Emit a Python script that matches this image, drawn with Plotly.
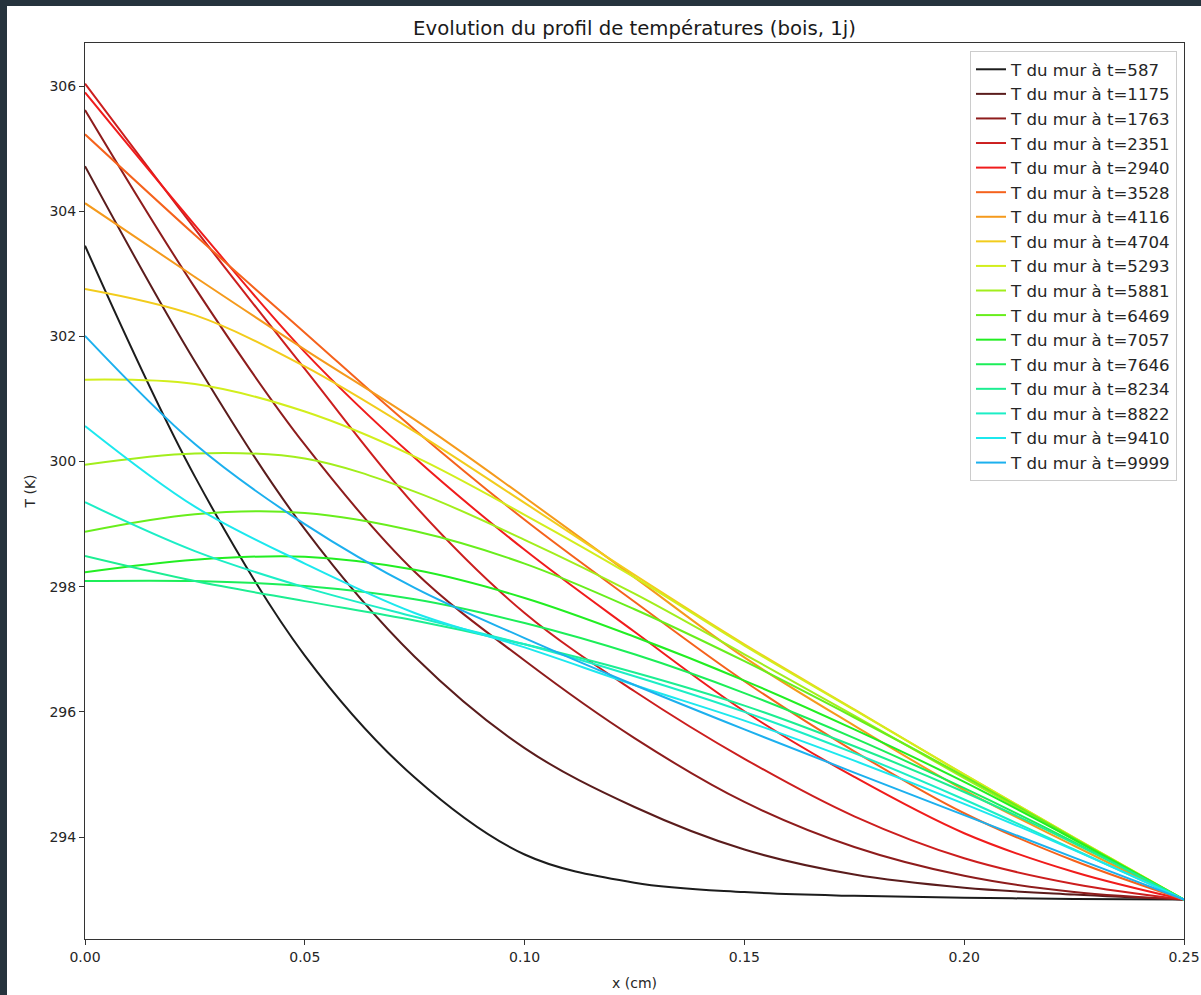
import plotly.graph_objects as go

x_cm = [0.0, 0.025, 0.05, 0.075, 0.1, 0.125, 0.15, 0.175, 0.2, 0.225, 0.25]

times = [587, 1175, 1763, 2351, 2940, 3528, 4116, 4704, 5293, 5881,
         6469, 7057, 7646, 8234, 8822, 9410, 9999]

T_587 = [303.45, 299.76, 296.90, 294.95, 293.72, 293.27, 293.12, 293.06, 293.03, 293.01, 293.0]
T_1175 = [304.72, 301.60, 298.92, 296.88, 295.42, 294.48, 293.80, 293.40, 293.19, 293.08, 293.0]
T_1763 = [305.62, 302.78, 300.27, 298.24, 296.82, 295.58, 294.56, 293.84, 293.38, 293.12, 293.0]
T_2351 = [306.04, 303.72, 301.48, 299.30, 297.58, 296.33, 295.25, 294.33, 293.66, 293.25, 293.0]
T_2940 = [305.90, 303.78, 301.75, 300.06, 298.59, 297.28, 296.01, 294.96, 294.06, 293.44, 293.0]
T_3528 = [305.23, 303.62, 302.06, 300.51, 299.07, 297.76, 296.49, 295.37, 294.38, 293.62, 293.0]
T_4116 = [304.13, 302.95, 301.79, 300.67, 299.43, 298.15, 296.87, 295.78, 294.75, 293.86, 293.0]
T_4704 = [302.76, 302.34, 301.52, 300.48, 299.34, 298.19, 297.08, 296.04, 295.00, 293.99, 293.0]
T_5293 = [301.31, 301.24, 300.80, 300.08, 299.15, 298.15, 297.06, 296.03, 295.00, 293.99, 293.0]
T_5881 = [299.95, 300.13, 300.05, 299.52, 298.75, 297.89, 296.92, 295.94, 294.94, 293.96, 293.0]
T_6469 = [298.88, 299.16, 299.18, 298.89, 298.37, 297.64, 296.81, 295.91, 294.97, 293.98, 293.0]
T_7057 = [298.23, 298.43, 298.48, 298.27, 297.82, 297.20, 296.50, 295.72, 294.88, 293.96, 293.0]
T_7646 = [298.09, 298.09, 298.01, 297.80, 297.42, 296.92, 296.30, 295.58, 294.78, 293.92, 293.0]
T_8234 = [298.49, 298.09, 297.77, 297.46, 297.08, 296.63, 296.10, 295.45, 294.72, 293.90, 293.0]
T_8822 = [299.35, 298.57, 297.99, 297.52, 297.08, 296.57, 296.00, 295.34, 294.60, 293.80, 293.0]
T_9410 = [300.57, 299.28, 298.37, 297.58, 297.03, 296.43, 295.86, 295.22, 294.53, 293.79, 293.0]
T_9999 = [302.01, 300.28, 299.00, 297.98, 297.18, 296.43, 295.72, 295.03, 294.35, 293.67, 293.0]

series = [T_587, T_1175, T_1763, T_2351, T_2940, T_3528, T_4116, T_4704, T_5293,
          T_5881, T_6469, T_7057, T_7646, T_8234, T_8822, T_9410, T_9999]

colors = ['#1c1c1c', '#5a1c1c', '#8e1c1c', '#cc1e1e', '#f01c1c', '#f5621c', '#f59a1c',
          '#f2cc1c', '#d2ee1c', '#a2ee1c', '#68ee1c', '#22ee22', '#1cee58', '#1cee92',
          '#1ceec6', '#1ce8ee', '#1cb0ee']

fig = go.Figure()
for t, y, c in zip(times, series, colors):
    fig.add_trace(go.Scatter(
        x=x_cm, y=y, mode='lines',
        line=dict(color=c, width=2, shape='spline', smoothing=1.0),
        name='T du mur à t=%d' % t,
    ))

FONT = 'DejaVu Sans'
axis_common = dict(
    showline=True, linecolor='#333333', linewidth=1, mirror=True,
    ticks='outside', ticklen=5, tickwidth=1, tickcolor='#333333',
    showgrid=False, zeroline=False, automargin=False,
    tickfont=dict(family=FONT, size=14, color='#262626'),
)

fig.update_layout(
    width=1201, height=995,
    margin=dict(l=85, r=17, t=43, b=56, autoexpand=False),
    paper_bgcolor='#26333d',
    plot_bgcolor='white',
    font=dict(family=FONT, color='#262626'),
    title=dict(text='Evolution du profil de températures (bois, 1j)',
               x=(85 + 1184) / 2 / 1201, xanchor='center',
               y=1 - 28 / 995, yanchor='middle',
               font=dict(family=FONT, size=19.7, color='#1a1a1a')),
    xaxis=dict(range=[0, 0.25], tickvals=[0, 0.05, 0.1, 0.15, 0.2, 0.25],
               tickformat='.2f',
               title=dict(text='x (cm)', font=dict(family=FONT, size=14, color='#262626'),
                          standoff=14),
               **axis_common),
    yaxis=dict(range=[292.37, 306.69], tickvals=[294, 296, 298, 300, 302, 304, 306],
               title=dict(text='T (K)', font=dict(family=FONT, size=14, color='#262626'),
                          standoff=10),
               **axis_common),
    legend=dict(x=(1177 - 85) / 1099, y=(939 - 51) / 896, xanchor='right', yanchor='top',
                bgcolor='rgba(255,255,255,0.85)', bordercolor='#cccccc', borderwidth=1,
                font=dict(family=FONT, size=16.6, color='#262626'),
                itemwidth=30),
    shapes=[dict(type='rect', xref='paper', yref='paper',
                 x0=(7 - 85) / 1099, x1=1.2, y0=-0.2, y1=(939 - 6) / 896,
                 fillcolor='white', line=dict(width=0), layer='below')],
)

fig.write_html('out.html',
               config={'displayModeBar': False},
               post_script="document.body.style.margin='0px';"
                           "document.body.style.overflow='hidden';")
